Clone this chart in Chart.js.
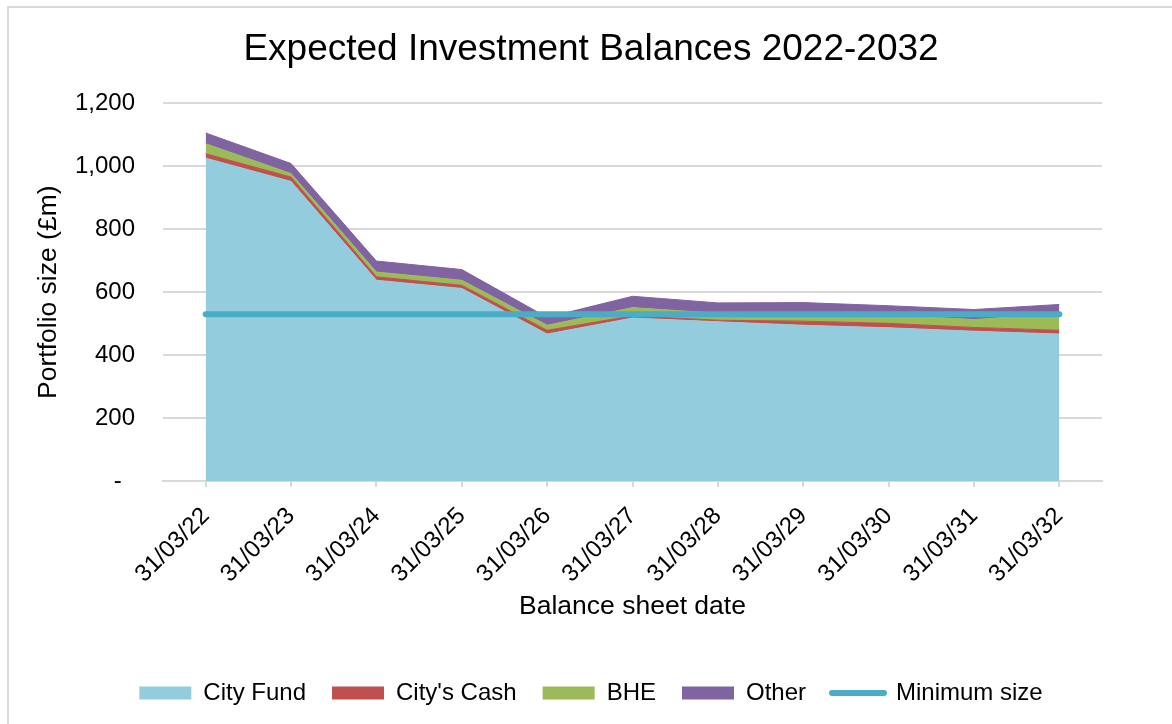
<!DOCTYPE html>
<html lang="en">
<head>
    <meta charset="UTF-8">
    <title>Expected Investment Balances 2022-2032</title>
    <script src="https://cdn.jsdelivr.net/npm/chart.js"></script>
    <style>
        html, body { margin: 0; padding: 0; background: #fff; overflow: hidden; }
        .frame { position: absolute; left: 7px; top: 6px; width: 1200px; height: 800px; border: 2px solid #d9d9d9; }
        .wrap { position: absolute; left: 0; top: 0; width: 1172px; height: 724px; }
    </style>
</head>
<body>
    <div class="frame"></div>
    <div class="wrap"><canvas id="balanceChart"></canvas></div>

    <script>
        // balance sheet dates
        const labels = ['31/03/22', '31/03/23', '31/03/24', '31/03/25', '31/03/26', '31/03/27',
                        '31/03/28', '31/03/29', '31/03/30', '31/03/31', '31/03/32'];

        // £m
        const cityFund = [1026, 952, 638, 612, 467, 518, 506, 495, 487, 476, 467];
        const cityCash = [14, 14, 11, 10, 12, 7, 5, 13, 14, 12, 12];
        const bhe      = [32, 11, 15, 16, 16, 26, 22, 25, 27, 25, 53];
        const other    = [34, 32, 35, 34, 25, 36, 33, 34, 29, 32, 29];
        const minSize  = [530, 530, 530, 530, 530, 530, 530, 530, 530, 530, 530];

        const yTicks = [0, 200, 400, 600, 800, 1000, 1200];

        const font = "'Liberation Sans', Arial, sans-serif";
        const grey = '#d9d9d9';

        function area(label, data, colour, fill) {
            return {
                label: label,
                data: data,
                backgroundColor: colour,
                borderColor: colour,
                borderWidth: 1,
                pointRadius: 0,
                tension: 0,
                fill: fill,
                order: 1
            };
        }

        const ctx = document.getElementById('balanceChart').getContext('2d');
        new Chart(ctx, {
            type: 'line',
            data: {
                labels: labels,
                datasets: [
                    area('City Fund', cityFund, '#93cddd', 'origin'),
                    area("City's Cash", cityCash, '#c0504d', '-1'),
                    area('BHE', bhe, '#9bbb59', '-1'),
                    area('Other', other, '#8064a2', '-1'),
                    {
                        label: 'Minimum size',
                        data: minSize,
                        stack: 'min',
                        borderColor: '#4bacc6',
                        backgroundColor: '#4bacc6',
                        borderWidth: 6,
                        borderCapStyle: 'round',
                        pointRadius: 0,
                        fill: false,
                        order: 0
                    }
                ]
            },
            options: {
                responsive: true,
                maintainAspectRatio: false,
                animation: false,
                layout: { padding: { left: 30, right: 20, top: 0, bottom: 9 } },
                plugins: {
                    title: {
                        display: true,
                        text: 'Expected Investment Balances 2022-2032',
                        color: '#000',
                        font: { family: font, size: 37, weight: 'normal' },
                        padding: { top: 28, bottom: 31 }
                    },
                    legend: {
                        position: 'bottom',
                        labels: {
                            color: '#000',
                            font: { family: font, size: 24 },
                            usePointStyle: true,
                            pointStyleWidth: 52,
                            boxHeight: 13,
                            padding: 26,
                            generateLabels: (chart) => chart.data.datasets.map((ds, i) => ({
                                text: ds.label,
                                fillStyle: ds.backgroundColor,
                                strokeStyle: ds.borderColor,
                                lineWidth: ds.stack === 'min' ? 6 : 0,
                                lineCap: 'round',
                                pointStyle: ds.stack === 'min' ? 'line' : 'rect',
                                fontColor: '#000',
                                hidden: false,
                                datasetIndex: i
                            }))
                        }
                    },
                    tooltip: { enabled: false }
                },
                scales: {
                    x: {
                        offset: true,
                        afterFit: (scale) => { scale.height = 174; },
                        grid: { drawOnChartArea: false, drawTicks: true, tickLength: 6, color: grey, lineWidth: 2 },
                        border: { color: grey, width: 2 },
                        ticks: {
                            color: '#000',
                            font: { family: font, size: 24 },
                            minRotation: 45,
                            maxRotation: 45,
                            padding: 15,
                            autoSkip: false
                        },
                        title: {
                            display: true,
                            text: 'Balance sheet date',
                            color: '#000',
                            font: { family: font, size: 26.5 },
                            padding: { top: 0, bottom: 32 }
                        }
                    },
                    y: {
                        stacked: true,
                        min: 0,
                        max: 1200,
                        afterFit: (scale) => { scale.width = 133; },
                        afterBuildTicks: (scale) => { scale.ticks = yTicks.map(v => ({ value: v })); },
                        grid: { color: grey, lineWidth: 2, drawTicks: false },
                        border: { display: false },
                        ticks: {
                            color: '#000',
                            font: { family: font, size: 24 },
                            padding: 28,
                            callback: (v) => v === 0 ? '-  ' : v.toLocaleString('en-GB')
                        },
                        title: {
                            display: true,
                            text: 'Portfolio size (£m)',
                            color: '#000',
                            font: { family: font, size: 26.5 },
                            padding: { top: 3, bottom: 0 }
                        }
                    },
                    // empty space on the right, keeps the title centred like the original
                    spacer: {
                        position: 'right',
                        min: 0,
                        max: 1,
                        afterFit: (scale) => { scale.width = 50; },
                        grid: { display: false },
                        border: { display: false },
                        ticks: { display: false }
                    }
                }
            }
        });
    </script>
</body>
</html>
